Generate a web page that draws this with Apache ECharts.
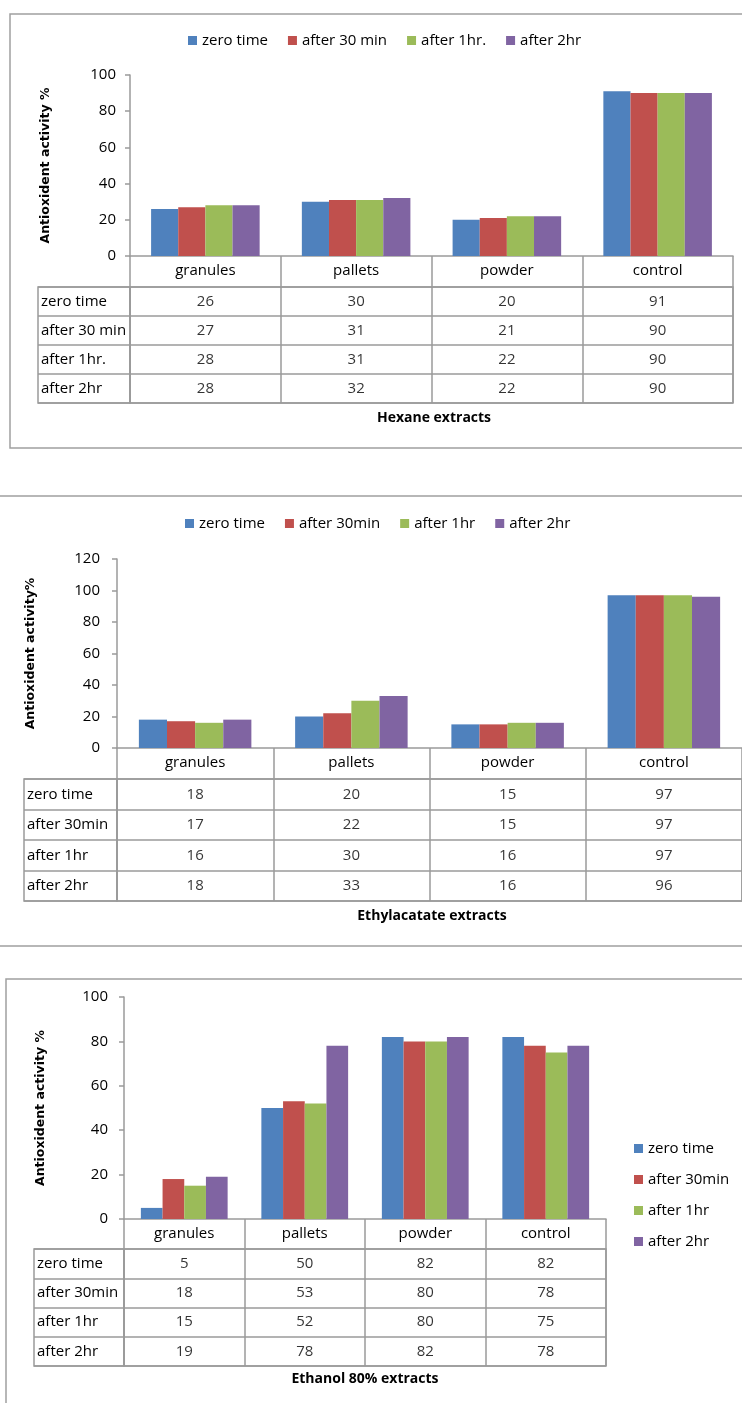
<!DOCTYPE html>
<html>
<head>
<meta charset="utf-8">
<script src="https://cdn.jsdelivr.net/npm/echarts@6/dist/echarts.min.js"></script>
<style>
html,body{margin:0;padding:0;background:#fff;}
#c{width:742px;height:1403px;}
</style>
</head>
<body>
<div id="c"></div>
<script>
// ---- data ----
const categories = ['granules', 'pallets', 'powder', 'control'];
const seriesNames1 = ['zero time', 'after 30 min', 'after 1hr.', 'after 2hr'];
const seriesNames2 = ['zero time', 'after 30min', 'after 1hr', 'after 2hr'];
const seriesNames3 = ['zero time', 'after 30min', 'after 1hr', 'after 2hr'];
const colors = ['#4F81BD', '#C0504D', '#9BBB59', '#8064A2'];

// Hexane extracts (rows = time, columns = categories)
const hexane = [
  [26, 30, 20, 91],
  [27, 31, 21, 90],
  [28, 31, 22, 90],
  [28, 32, 22, 90]
];
// Ethylacatate extracts
const ethyl = [
  [18, 20, 15, 97],
  [17, 22, 15, 97],
  [16, 30, 16, 97],
  [18, 33, 16, 96]
];
// Ethanol 80% extracts
const ethanol = [
  [5, 50, 82, 82],
  [18, 53, 80, 78],
  [15, 52, 80, 75],
  [19, 78, 82, 78]
];
const titles = ['Hexane extracts', 'Ethylacatate extracts', 'Ethanol 80% extracts'];
const yTitles = ['Antioxident activity %', 'Antioxident activity%', 'Antioxident activity %'];
const yMax = [100, 120, 100];
const yInterval = [20, 20, 20];

// ---- layout (pixels) ----
const layouts = [
  {axisX:130, rightX:733, top:75, zeroY:256, headerH:31, tableLeft:38, tableBottom:403, labelMargin:14,
   legend:{left:183, top:28, orient:'horizontal', gap:20}, titleX:434, titleY:418, nameGap:78},
  {axisX:117, rightX:749, top:559, zeroY:748, headerH:31, tableLeft:24, tableBottom:901, labelMargin:17,
   legend:{left:180, top:511, orient:'horizontal', gap:20}, titleX:432, titleY:916, nameGap:80},
  {axisX:124, rightX:606, top:997, zeroY:1219, headerH:30, tableLeft:34, tableBottom:1366, labelMargin:16,
   legend:{left:629, top:1136, orient:'vertical', gap:16}, titleX:365, titleY:1379, nameGap:77}
];
const W = 742, H = 1403;
const datasets = [hexane, ethyl, ethanol];
const names = [seriesNames1, seriesNames2, seriesNames3];
const lineColor = '#9a9a9a';
const textColor = '#000';
const FS = 15;

const grid = [], xAxis = [], yAxis = [], series = [], legend = [], graphic = [];

layouts.forEach((L, k) => {
  const d = datasets[k], nm = names[k];
  const tableTop = L.zeroY + L.headerH;
  // bar grid
  grid.push({left:L.axisX, top:L.top, width:L.rightX - L.axisX, height:L.zeroY - L.top, containLabel:false});
  xAxis.push({
    type:'category', gridIndex:3*k, data:categories,
    axisLine:{show:true, lineStyle:{color:lineColor, width:1.5}},
    axisTick:{show:true, interval:0, length:L.headerH, lineStyle:{color:lineColor, width:1.5}},
    axisLabel:{interval:0, margin:7, fontSize:FS, color:textColor, fontFamily:'Open Sans'},
    splitLine:{show:false}
  });
  yAxis.push({
    type:'value', gridIndex:3*k, min:0, max:yMax[k], interval:yInterval[k],
    axisLine:{show:true, lineStyle:{color:lineColor, width:1.5}},
    axisTick:{show:true, length:5, lineStyle:{color:lineColor, width:1.5}},
    axisLabel:{margin:L.labelMargin, fontSize:FS, color:textColor, fontFamily:'Open Sans'},
    splitLine:{show:false},
    name:yTitles[k], nameLocation:'middle', nameRotate:90, nameGap:L.nameGap,
    nameTextStyle:{fontFamily:'DejaVu Sans', fontWeight:'bold', fontSize:12.5, color:textColor}
  });
  // label grid (left column of table)
  grid.push({left:L.tableLeft, top:tableTop, width:L.axisX - L.tableLeft, height:L.tableBottom - tableTop,
    show:true, borderColor:lineColor, borderWidth:1.5, containLabel:false});
  xAxis.push({type:'value', gridIndex:3*k+1, min:0, max:1, show:false});
  yAxis.push({
    type:'category', gridIndex:3*k+1, data:nm, inverse:true,
    axisLine:{show:false}, axisTick:{show:false},
    axisLabel:{inside:true, margin:3, fontSize:FS, color:textColor, fontFamily:'Open Sans', interval:0},
    splitLine:{show:true, interval:0, lineStyle:{color:lineColor, width:1.5}}
  });
  // value grid
  grid.push({left:L.axisX, top:tableTop, width:L.rightX - L.axisX, height:L.tableBottom - tableTop,
    show:true, borderColor:lineColor, borderWidth:1.5, containLabel:false});
  xAxis.push({
    type:'category', gridIndex:3*k+2, data:categories,
    axisLine:{show:false}, axisTick:{show:false}, axisLabel:{show:false},
    splitLine:{show:true, interval:0, lineStyle:{color:lineColor, width:1.5}}
  });
  yAxis.push({
    type:'category', gridIndex:3*k+2, data:nm, inverse:true,
    axisLine:{show:false}, axisTick:{show:false}, axisLabel:{show:false},
    splitLine:{show:true, interval:0, lineStyle:{color:lineColor, width:1.5}}
  });
  // bars
  nm.forEach((n, s) => {
    series.push({
      type:'bar', name:n, xAxisIndex:3*k, yAxisIndex:3*k, data:d[s],
      barGap:'0%', barCategoryGap:'28%', itemStyle:{color:colors[s]}, silent:true
    });
  });
  // table values
  const cells = [];
  d.forEach((row, r) => row.forEach((v, c) => cells.push([c, r, v])));
  series.push({
    type:'scatter', name:'table' + k, xAxisIndex:3*k+2, yAxisIndex:3*k+2, data:cells,
    symbolSize:1, itemStyle:{color:'rgba(0,0,0,0)'}, silent:true,
    label:{show:true, position:'inside', formatter:p => String(p.value[2]), fontSize:FS, color:textColor, fontFamily:'Open Sans'}
  });
  // legend
  legend.push({
    data:nm.map((n, s) => ({name:n, itemStyle:{color:colors[s]}})),
    left:L.legend.left, top:L.legend.top, orient:L.legend.orient,
    icon:'rect', itemWidth:9, itemHeight:9,
    itemGap:L.legend.gap,
    selectedMode:false,
    textStyle:{fontSize:FS, color:textColor, fontFamily:'Open Sans'}
  });
  // bottom title
  graphic.push({type:'text', x:L.titleX, y:L.titleY, style:{text:titles[k], textAlign:'center', textVerticalAlign:'middle',
    fontFamily:'Open Sans', fontWeight:'bold', fontSize:14, fill:textColor}});
});

// frames
graphic.push({type:'rect', shape:{x:10, y:14, width:800, height:434}, style:{fill:'none', stroke:'#a0a0a0', lineWidth:1.5}, z:-1});
graphic.push({type:'rect', shape:{x:-10, y:496, width:800, height:450}, style:{fill:'none', stroke:'#a0a0a0', lineWidth:1.5}, z:-1});
graphic.push({type:'rect', shape:{x:6, y:979, width:800, height:600}, style:{fill:'none', stroke:'#a0a0a0', lineWidth:1.5}, z:-1});

const chart = echarts.init(document.getElementById('c'), null, {renderer:'canvas', width:W, height:H});
chart.setOption({
  animation:false,
  backgroundColor:'#fff',
  textStyle:{fontFamily:'Open Sans'},
  grid, xAxis, yAxis, series, legend, graphic
});
</script>
</body>
</html>
